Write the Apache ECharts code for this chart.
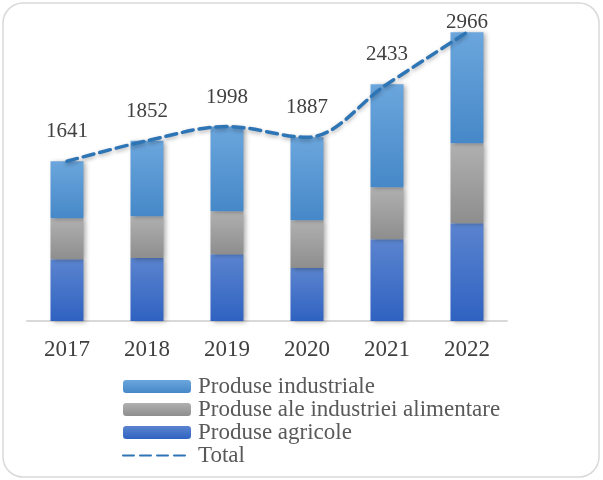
<!DOCTYPE html>
<html>
<head>
<meta charset="utf-8">
<script src="https://cdn.jsdelivr.net/npm/echarts@6/dist/echarts.min.js"></script>
<style>
  html, body { margin: 0; padding: 0; background: #fff; }
  #chart { width: 603px; height: 480px; }
</style>
</head>
<body>
<div id="chart"></div>
<script>
var years = ['2017', '2018', '2019', '2020', '2021', '2022']
var agricole = [634, 648, 686, 545, 840, 1004]
var alimentare = [421, 428, 442, 490, 535, 823]
var industriale = [586, 776, 870, 852, 1058, 1139]
var total = [1641, 1852, 1998, 1887, 2433, 2966]

var serif = '"Liberation Serif", "DejaVu Serif", serif'

function grad(top, bottom) {
  return new echarts.graphic.LinearGradient(0, 0, 0, 1, [
    { offset: 0, color: top },
    { offset: 1, color: bottom }
  ])
}

var barShadow = {
  shadowBlur: 5,
  shadowColor: 'rgba(0,0,0,0.35)',
  shadowOffsetX: 2,
  shadowOffsetY: 1
}

var chart = echarts.init(document.getElementById('chart'), null, { renderer: 'canvas' })

chart.setOption({
  animation: false,
  graphic: [{
    type: 'rect',
    shape: { x: 3, y: 3, width: 596, height: 474, r: 20 },
    style: { fill: 'none', stroke: '#d9d9d9', lineWidth: 1.5 },
    z: -1
  }],
  grid: {
    left: 27,
    width: 480,
    top: 29,
    bottom: 159
  },
  xAxis: {
    type: 'category',
    data: years,
    axisTick: { show: false },
    axisLine: { lineStyle: { color: '#d9d9d9', width: 2 } },
    axisLabel: {
      fontFamily: serif,
      fontSize: 23,
      color: '#404040',
      margin: 17
    }
  },
  yAxis: {
    type: 'value',
    min: 0,
    max: 3000,
    show: false
  },
  legend: {
    orient: 'vertical',
    left: 117,
    top: 370,
    height: 110,
    itemWidth: 68,
    itemHeight: 13,
    itemGap: 0,
    textStyle: {
      fontFamily: serif,
      fontSize: 23,
      color: '#595959',
      padding: [0, 0, 0, 2]
    },
    data: [
      'Produse industriale',
      'Produse ale industriei alimentare',
      'Produse agricole',
      { name: 'Total', itemStyle: { opacity: 0 } }
    ]
  },
  series: [
    {
      name: 'Produse agricole',
      type: 'bar',
      stack: 'a',
      barWidth: 33,
      data: agricole,
      itemStyle: Object.assign({ color: grad('#5b84cf', '#2f62c1') }, barShadow)
    },
    {
      name: 'Produse ale industriei alimentare',
      type: 'bar',
      stack: 'a',
      data: alimentare,
      itemStyle: Object.assign({ color: grad('#b0b0b0', '#8e8e8e') }, barShadow)
    },
    {
      name: 'Produse industriale',
      type: 'bar',
      stack: 'a',
      data: industriale,
      itemStyle: Object.assign({ color: grad('#6ba6dd', '#4688c8') }, barShadow)
    },
    {
      name: 'Total',
      type: 'line',
      smooth: 0.35,
      symbol: 'circle',
      symbolSize: 0,
      showSymbol: true,
      data: total.map(function (v, i) {
        var d = { value: v }
        if (i === total.length - 1) d.label = { distance: -1 }
        return d
      }),
      lineStyle: {
        color: '#2e75b6',
        width: 3.5,
        type: [11, 6],
        cap: 'round',
        shadowBlur: 4,
        shadowColor: 'rgba(0,0,0,0.3)',
        shadowOffsetY: 2
      },
      itemStyle: { color: '#2e75b6' },
      label: {
        show: true,
        position: 'top',
        distance: 19,
        fontFamily: serif,
        fontSize: 21,
        color: '#404040'
      },
      z: 5
    }
  ]
})
</script>
</body>
</html>
